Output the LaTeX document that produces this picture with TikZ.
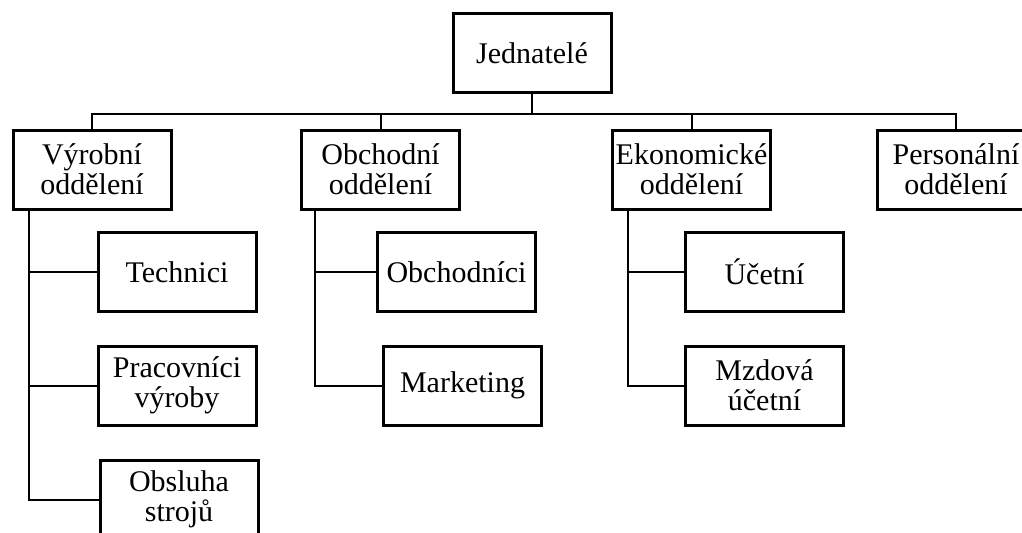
\documentclass[tikz,border=0pt]{standalone}
\usepackage{fontspec}
\setmainfont{Liberation Serif}
\usetikzlibrary{positioning,calc}
\tikzset{
  unit/.style={draw, rectangle, line width=1.5pt, align=center, font=\fontsize{15}{15}\selectfont, minimum width=79pt, minimum height=39.5pt, inner sep=1pt, fill=white},
  conn/.style={line width=1pt},
}
\begin{document}
\begin{tikzpicture}[x=0.5pt,y=-0.5pt]
\useasboundingbox (0,0) rectangle (1022,532);
\node[unit] (jed) at (532,53) {Jednatelé};
\coordinate (bus) at (532,114);
\node[unit] (vyr) at (92,169.5) {Výrobní\\oddělení};
\node[unit] (obch) at (380.5,169.5) {Obchodní\\oddělení};
\node[unit] (eko) at (691.5,169.5) {Ekonomické\\oddělení};
\node[unit] (pers) at (956,169.5) {Personální\\oddělení};
\node[unit] (tech) at (177,272) {Technici};
\node[unit] (prac) at (177,385.5) {Pracovníci\\výroby};
\node[unit] (obs) at (179,499.5) {Obsluha\\strojů};
\node[unit] (obchn) at (456.5,272) {Obchodníci};
\node[unit] (mark) at (462.5,385.5) {Marketing};
\node[unit] (uc) at (764.5,272) {Účetní};
\node[unit] (mzd) at (764.5,385.5) {Mzdová\\účetní};
\coordinate (vyrA) at ([xshift=8.5pt]vyr.south west);
\coordinate (obchA) at ([xshift=7.5pt]obch.south west);
\coordinate (ekoA) at ([xshift=8.5pt]eko.south west);
\draw[conn] (jed.south) -- (bus);
\draw[conn] (bus) -| (vyr.north); \draw[conn] (bus) -| (obch.north); \draw[conn] (bus) -| (eko.north); \draw[conn] (bus) -| (pers.north);
\draw[conn] (vyrA) |- (tech.west); \draw[conn] (vyrA) |- (prac.west); \draw[conn] (vyrA) |- (obs.west);
\draw[conn] (obchA) |- (obchn.west); \draw[conn] (obchA) |- (mark.west);
\draw[conn] (ekoA) |- (uc.west); \draw[conn] (ekoA) |- (mzd.west);
\end{tikzpicture}
\end{document}
